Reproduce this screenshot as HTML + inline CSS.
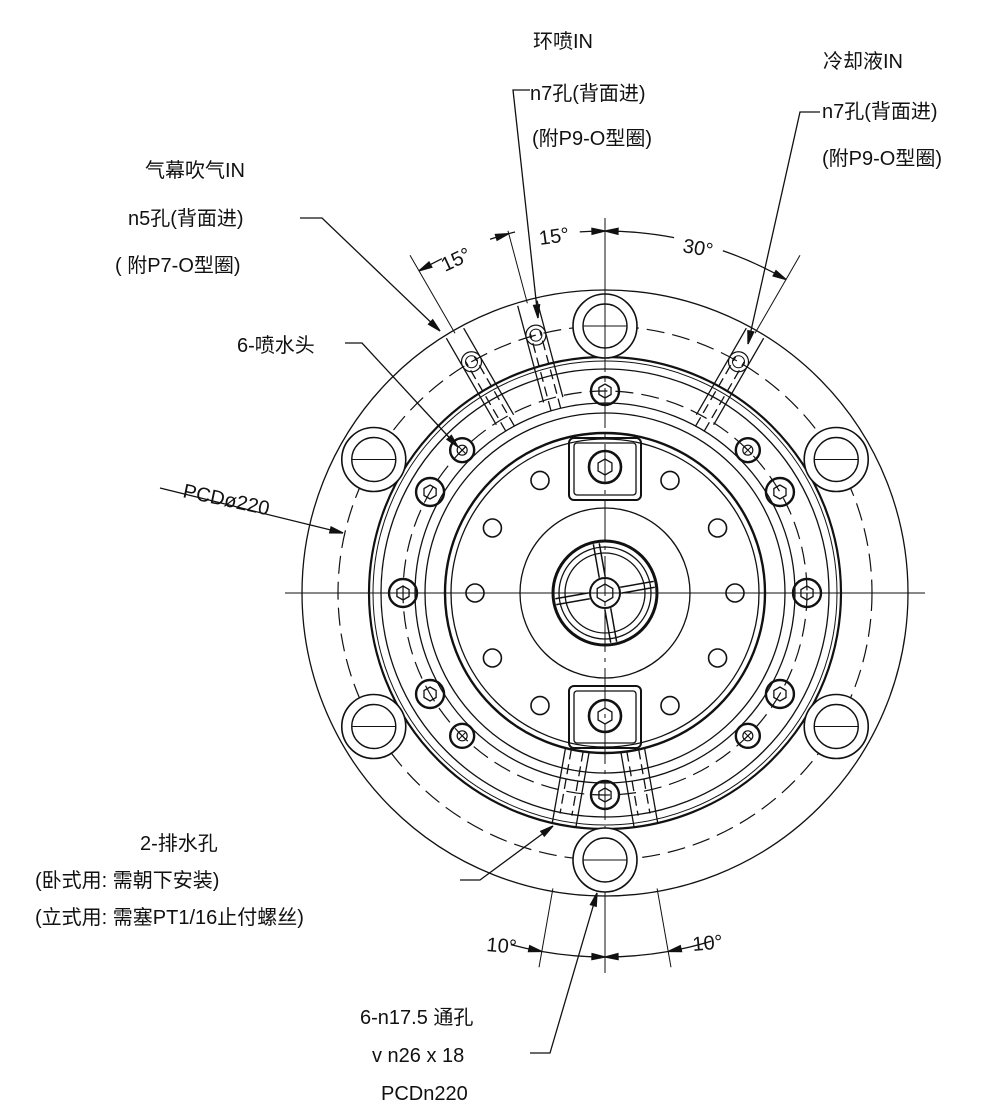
<!DOCTYPE html>
<html><head><meta charset="utf-8"><style>
html,body{margin:0;padding:0;background:#fff;}
svg{display:block;}
text{font-family:"Liberation Sans","Noto Sans CJK SC",sans-serif;font-size:20px;fill:#111;}
</style></head><body>
<svg id="s" width="1000" height="1118" viewBox="0 0 1000 1118" xmlns="http://www.w3.org/2000/svg">
<g id="g" fill="none" stroke="#111" stroke-width="1.3"></g>
<g id="t">
<text x="533" y="48">环喷IN</text>
<text x="530" y="100">n7孔(背面进)</text>
<text x="532" y="145">(附P9-O型圈)</text>
<text x="823" y="68">冷却液IN</text>
<text x="822" y="118">n7孔(背面进)</text>
<text x="822" y="165">(附P9-O型圈)</text>
<text x="145" y="177">气幕吹气IN</text>
<text x="128" y="225">n5孔(背面进)</text>
<text x="115" y="272">( 附P7-O型圈)</text>
<text x="237" y="352">6-喷水头</text>
<text x="182" y="497" transform="rotate(12 182 497)">PCDø220</text>
<text x="140" y="850">2-排水孔</text>
<text x="35" y="887">(卧式用: 需朝下安装)</text>
<text x="35" y="924">(立式用: 需塞PT1/16止付螺丝)</text>
<text x="360" y="1024">6-n17.5 通孔</text>
<text x="372" y="1062">v n26 x 18</text>
<text x="381" y="1100">PCDn220</text>
<text x="445" y="272" transform="rotate(-25 445 272)">15°</text>
<text x="540" y="245" transform="rotate(-8 540 245)">15°</text>
<text x="682" y="252" transform="rotate(10 682 252)">30°</text>
<text x="486" y="951" transform="rotate(5 486 951)">10°</text>
<text x="693" y="951" transform="rotate(-5 693 951)">10°</text>
</g>
</svg>
<script>
var g=document.getElementById('g'),NS='http://www.w3.org/2000/svg',cx=605,cy=593;
function el(n,a){var e=document.createElementNS(NS,n);for(var k in a)e.setAttribute(k,a[k]);g.appendChild(e);return e;}
function C(x,y,r,w,d){var a={cx:x,cy:y,r:r};if(w)a['stroke-width']=w;if(d)a['stroke-dasharray']=d;return el('circle',a);}
function L(x1,y1,x2,y2,w,d){var a={x1:x1,y1:y1,x2:x2,y2:y2};if(w)a['stroke-width']=w;if(d)a['stroke-dasharray']=d;return el('line',a);}
function P(th,r){var t=th*Math.PI/180;return [cx+r*Math.sin(t),cy-r*Math.cos(t)];}
function arrow(x1,y1,x2,y2){var a=Math.atan2(y2-y1,x2-x1),l=13,w=3;el('polygon',{points:x2+','+y2+' '+(x2-l*Math.cos(a)+w*Math.sin(a))+','+(y2-l*Math.sin(a)-w*Math.cos(a))+' '+(x2-l*Math.cos(a)-w*Math.sin(a))+','+(y2-l*Math.sin(a)+w*Math.cos(a)),fill:'#111'});}
C(cx,cy,303);C(cx,cy,267,1.2,'18 8');C(cx,cy,236,2.2);C(cx,cy,232,1);C(cx,cy,224);
C(cx,cy,202,1.2,'18 8');C(cx,cy,190);C(cx,cy,180);C(cx,cy,160,2.4);C(cx,cy,154);
C(cx,cy,85);C(cx,cy,52,3);C(cx,cy,46);C(cx,cy,40);C(cx,cy,15,2);
L(285,cy,925,cy,1);L(cx,220,cx,965,1,'40 6 4 6');
[0,60,120,180,240,300].forEach(function(a){var p=P(a,267);el('circle',{cx:p[0],cy:p[1],r:32,fill:'#fff','stroke-width':1.6});C(p[0],p[1],22,1.4);L(p[0]-22,p[1],p[0]+22,p[1],1);});
L(cx,260,cx,360,1);
function hex(x,y,r){var s='';for(var i=0;i<6;i++){var t=i*Math.PI/3+Math.PI/6;s+=(x+r*Math.cos(t))+','+(y+r*Math.sin(t))+' ';}el('polygon',{points:s});}
[0,60,120,180,240,300,90,270].forEach(function(a){var p=P(a,202);C(p[0],p[1],14,2.4);hex(p[0],p[1],7);});
[45,135,225,315].forEach(function(a){var p=P(a,202);C(p[0],p[1],12,2.4);C(p[0],p[1],5,1.2);L(p[0]-4,p[1]-4,p[0]+4,p[1]+4,1);L(p[0]-4,p[1]+4,p[0]+4,p[1]-4,1);});
[0,30,60,120,150,180,210,240,300,330].forEach(function(a){var p=P(a+90,130);C(p[0],p[1],9,1.6);});
function pocket(y){el('rect',{x:569,y:y,width:72,height:62,rx:5,'stroke-width':2});el('rect',{x:574,y:y+5,width:62,height:52,rx:3});}
pocket(438);pocket(686);
[[605,467],[605,716]].forEach(function(p){C(p[0],p[1],16,2.6);hex(p[0],p[1],8);});
[80,170,260,350].forEach(function(a){var p1=P(a,16),p2=P(a,50),q=P(a+90,3);L(p1[0]+q[0]-cx,p1[1]+q[1]-cy,p2[0]+q[0]-cx,p2[1]+q[1]-cy,1.5);L(p1[0]-q[0]+cx,p1[1]-q[1]+cy,p2[0]-q[0]+cx,p2[1]-q[1]+cy,1.5);});
hex(cx,cy,9);
function chan(th,w,r1,r2,dash){var u=[Math.sin(th*Math.PI/180),-Math.cos(th*Math.PI/180)],p=[-u[1],u[0]];
[-w,w].forEach(function(o){L(cx+u[0]*r1+p[0]*o,cy+u[1]*r1+p[1]*o,cx+u[0]*r2+p[0]*o,cy+u[1]*r2+p[1]*o,1.3,dash);});}
[-30,-15,30].forEach(function(a){chan(a,10,200,300);chan(a,5,190,270,'10 5');var p=P(a,267);C(p[0],p[1],10,1.2);C(p[0],p[1],6,1);});
[170,190].forEach(function(a){chan(a,12,160,236);chan(a,6,160,225,'10 5');});
function arc(r,a1,a2){var p1=P(a1,r),p2=P(a2,r);el('path',{d:'M'+p1[0]+','+p1[1]+' A'+r+','+r+' 0 0 1 '+p2[0]+','+p2[1]});}
[[-30,300,390],[-15,300,375],[0,280,375],[30,300,390],[170,300,380],[190,300,380],[180,300,380]].forEach(function(e){var a=P(e[0],e[1]),b=P(e[0],e[2]);L(a[0],a[1],b[0],b[1],1);});
arc(362,0,11);arc(362,19,30);
var q1=P(30,362),q2=P(27,362);arrow(q2[0],q2[1],q1[0],q1[1]);q2=P(3,362);q1=P(0,362);arrow(q2[0],q2[1],q1[0],q1[1]);
arc(372,-30,-26);q1=P(-30,372);q2=P(-27,372);arrow(q2[0],q2[1],q1[0],q1[1]);
arc(372,-18,-14);q1=P(-15,372);q2=P(-18,372);arrow(q2[0],q2[1],q1[0],q1[1]);
arc(362,-4,0);q1=P(0,362);q2=P(-3,362);arrow(q2[0],q2[1],q1[0],q1[1]);
arc(364,170,180);arc(364,180,190);arc(364,190,195);arc(364,163,170);
q1=P(170,364);q2=P(165,364);arrow(q2[0],q2[1],q1[0],q1[1]);q1=P(190,364);q2=P(195,364);arrow(q2[0],q2[1],q1[0],q1[1]);
q1=P(180,364);q2=P(176,364);arrow(q2[0],q2[1],q1[0],q1[1]);q2=P(184,364);arrow(q2[0],q2[1],q1[0],q1[1]);
el('polyline',{points:'530,90 513,90 538,318'});arrow(513,90,538,318);
el('polyline',{points:'820,112 800,112 748,344'});arrow(800,112,748,344);
el('polyline',{points:'300,218 322,218 440,331'});arrow(322,218,440,331);
el('polyline',{points:'345,343 362,343 458,447'});arrow(362,343,458,447);
el('polyline',{points:'160,488 343,533'});arrow(160,488,343,533);
el('polyline',{points:'460,880 480,880 553,826'});arrow(480,880,553,826);
el('polyline',{points:'530,1053 550,1053 597,893'});arrow(550,1053,597,893);
</script>
</body></html>
